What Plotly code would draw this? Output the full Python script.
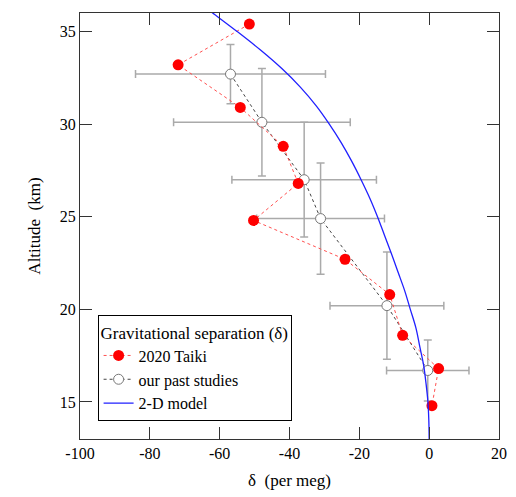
import plotly.graph_objects as go

# 2020 Taiki
taiki_delta = [-51.5, -71.9, -54.1, -41.8, -37.5, -50.3, -24.1, -11.3, -7.6, 2.7, 0.8]
taiki_alt = [35.4, 33.2, 30.9, 28.8, 26.8, 24.8, 22.7, 20.8, 18.6, 16.8, 14.8]

# our past studies
past_delta = [-56.9, -47.9, -35.8, -31.1, -12.1, -0.4]
past_alt = [32.7, 30.1, 27.0, 24.9, 20.2, 16.7]
past_xerr = [27.2, 25.3, 20.7, 18.3, 16.3, 11.8]
past_yerr = [1.6, 2.9, 3.1, 3.0, 2.9, 1.65]

# 2-D model
model_alt = [13, 14, 15, 16, 17, 18, 19, 20, 21, 22, 23, 24, 25, 26, 27, 28, 29, 30,
             31, 32, 33, 34, 35, 36, 36.5]
model_delta = [0, -0.1, -0.35, -0.9, -1.6, -2.7, -3.8, -5.4, -7.0, -8.9, -10.8, -12.8,
               -14.8, -17.0, -19.5, -22.2, -25.2, -28.6, -32.4, -36.9, -42.2, -48.3,
               -55.0, -62.0, -65.5]

x_ticks = [-100, -80, -60, -40, -20, 0, 20]
y_ticks = [15, 20, 25, 30, 35]

font = "Times New Roman, Liberation Serif, serif"

fig = go.Figure()

fig.add_trace(go.Scatter(
    x=past_delta, y=past_alt, mode="lines+markers",
    name="our past studies", legendrank=2,
    line=dict(color="#444444", width=1, dash="dot"),
    marker=dict(size=10, color="white", line=dict(color="#777777", width=1)),
    error_x=dict(type="data", array=past_xerr, color="#aaaaaa", thickness=1.5, width=4),
    error_y=dict(type="data", array=past_yerr, color="#aaaaaa", thickness=1.5, width=4),
))

fig.add_trace(go.Scatter(
    x=taiki_delta, y=taiki_alt, mode="lines+markers",
    name="2020 Taiki", legendrank=1,
    line=dict(color="#ff5050", width=1, dash="dot"),
    marker=dict(size=11, color="#ff0000"),
))

fig.add_trace(go.Scatter(
    x=model_delta, y=model_alt, mode="lines",
    name="2-D model", legendrank=3,
    line=dict(color="#2020ff", width=1.3, shape="spline"),
))

fig.update_layout(
    width=516, height=497,
    margin=dict(l=80, r=9, t=13, b=58),
    paper_bgcolor="white", plot_bgcolor="white",
    font=dict(family=font, size=15, color="black"),
    showlegend=True,
    legend=dict(
        title=dict(text="Gravitational separation (δ)", font=dict(family=font, size=17)),
        x=0.042, y=0.29, xanchor="left", yanchor="top",
        bordercolor="black", borderwidth=1, bgcolor="white",
        font=dict(family=font, size=16),
        traceorder="normal",
        itemwidth=30, tracegroupgap=0,
    ),
    xaxis=dict(
        range=[-100, 20], tickvals=x_ticks, ticktext=[str(v) for v in x_ticks],
        showgrid=False, zeroline=False, showline=True, linecolor="#333333", linewidth=1,
        mirror="ticks", ticks="inside", ticklen=12, tickcolor="#333333",
        title=dict(text="δ  (per meg)", font=dict(family=font, size=17), standoff=12),
        tickfont=dict(family=font, size=16),
    ),
    yaxis=dict(
        range=[13, 36], tickvals=y_ticks, ticktext=[str(v) for v in y_ticks],
        showgrid=False, zeroline=False, showline=True, linecolor="#333333", linewidth=1,
        mirror="ticks", ticks="inside", ticklen=12, tickcolor="#333333",
        title=dict(text="Altitude  (km)", font=dict(family=font, size=17), standoff=14),
        tickfont=dict(family=font, size=16),
    ),
)

fig.write_html("out.html")
